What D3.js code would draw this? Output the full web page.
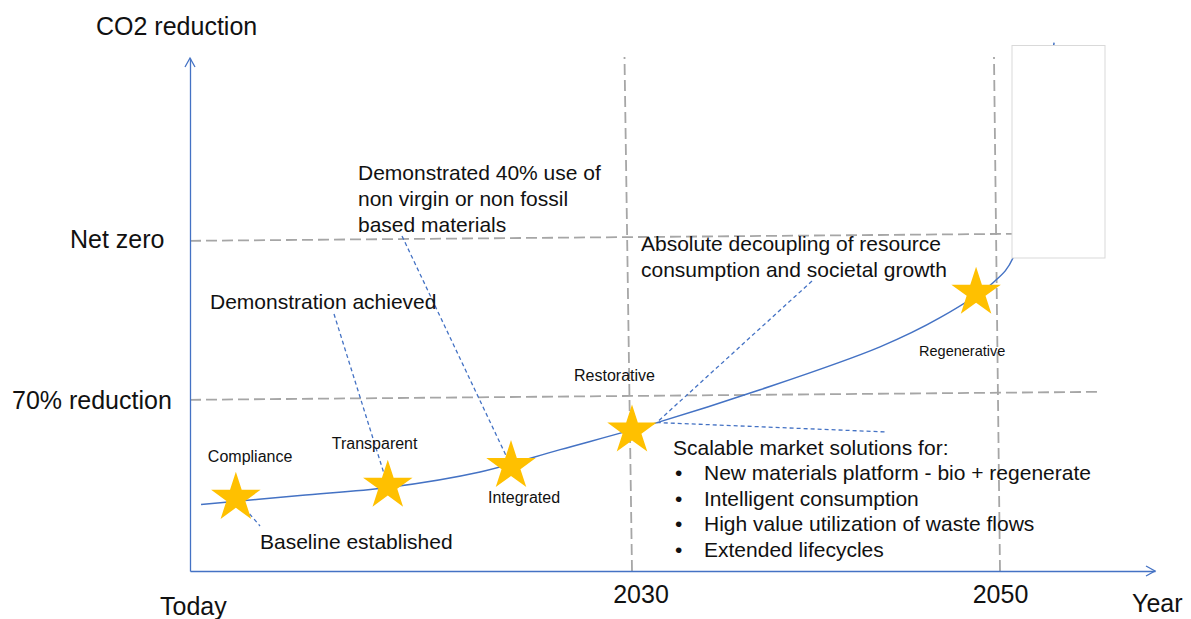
<!DOCTYPE html>
<html><head><meta charset="utf-8">
<script src="https://cdn.jsdelivr.net/npm/d3@7"></script>
<style>html,body{margin:0;padding:0;background:#fff}svg{display:block;font-family:"Liberation Sans",Arial,sans-serif}</style>
</head><body><svg id="c" width="1191" height="619"></svg>
<script>
// ---------- data ----------
const axisYears = [2022, 2030, 2050, 2058.4];      // Today, 2030, 2050, axis end
const xTickYears = [2030, 2050];
const xTickLabels = ["2030", "2050"];
const refValues = [100, 70];                          // % CO2 reduction
const refLabels = ["Net zero", "70% reduction"];
const stageNames = ["Compliance", "Transparent", "Integrated", "Restorative", "Regenerative"];
const stageYears = [2022.83, 2025.58, 2027.81, 2030.0, 2048.70];
const stageValues = [51.5, 53.8, 57.5, 64.2, 90.2];
const curveYears = [2022.20, 2023.99, 2025.58, 2027.25, 2028.70, 2031.36, 2036.96, 2043.48, 2046.74, 2049.62, 2050.71, 2052.93];
const curveValues = [50.25, 51.95, 53.46, 56.4, 60.6, 65.7, 71.9, 80.0, 85.5, 92.1, 96.8, 137.4];
const noteDemo40 = ["Demonstrated 40% use of", "non virgin or non fossil", "based materials"];
const noteDemo = ["Demonstration achieved"];
const noteDecouple = ["Absolute decoupling of resource", "consumption and societal growth"];
const noteScalableTitle = "Scalable market solutions for:";
const noteScalableItems = ["New materials platform - bio + regenerate", "Intelligent consumption", "High value utilization of waste flows", "Extended lifecycles"];
const noteBaseline = ["Baseline established"];

// ---------- layout / style ----------
const BLUE = "#4472C4", GREY = "#A6A6A6", GOLD = "#FFC000", INK = "#111";
const svg = d3.select("#c");
svg.append("rect").attr("width", 1191).attr("height", 619).attr("fill", "#fff");

const x = d3.scaleLinear().domain(axisYears).range([190, 632, 1000, 1155]);
const y = d3.scaleLinear().domain([37.7, 134.5]).range([571, 58]);
const x0 = x(axisYears[0]), xEnd = x(axisYears[3]);
const yBase = y(37.7), yTop = y(134.5);

// reference dashed lines (slightly tilted, as in the slide)
const refEndYears = [2050.65, 2055.4], refTilt = [7, 8];
refValues.forEach((v, i) => {
  svg.append("line").attr("x1", x0).attr("y1", y(v)).attr("x2", x(refEndYears[i])).attr("y2", y(v) - refTilt[i])
    .attr("stroke", GREY).attr("stroke-width", 1.8).attr("stroke-dasharray", "11,5");
});
const vLean = [7.5, 6];
xTickYears.forEach((yr, i) => {
  svg.append("line").attr("x1", x(yr)).attr("y1", yBase).attr("x2", x(yr) - vLean[i]).attr("y2", 57)
    .attr("stroke", GREY).attr("stroke-width", 1.8).attr("stroke-dasharray", "11,5");
});

// axes
const gx = svg.append("g").attr("transform", `translate(0,${yBase})`)
  .call(d3.axisBottom(x).tickValues([]).tickSizeOuter(0));
const gy = svg.append("g").attr("transform", `translate(${x0},0)`)
  .call(d3.axisLeft(y).tickValues([]).tickSizeOuter(0));
[gx, gy].forEach(g => g.select(".domain").attr("stroke", BLUE).attr("stroke-width", 1.3));
svg.append("path").attr("d", `M${xEnd - 9},${yBase - 5}L${xEnd},${yBase}L${xEnd - 9},${yBase + 5}`)
  .attr("fill", "none").attr("stroke", BLUE).attr("stroke-width", 1.3);
svg.append("path").attr("d", `M${x0 - 5},${yTop + 9}L${x0},${yTop}L${x0 + 5},${yTop + 9}`)
  .attr("fill", "none").attr("stroke", BLUE).attr("stroke-width", 1.3);

// curve
const pts = curveYears.map((yr, i) => [x(yr), y(curveValues[i])]);
svg.append("path").attr("d", d3.line().curve(d3.curveCatmullRom.alpha(0.5))(pts))
  .attr("fill", "none").attr("stroke", BLUE).attr("stroke-width", 1.5);

// connectors
const R = 26;
const stars = stageYears.map((yr, i) => [x(yr), y(stageValues[i])]);
const tip = s => [s[0] + R * Math.cos(Math.PI / 10), s[1] - R * Math.sin(Math.PI / 10)];
const connectors = [
  [stars[0], [260, 526]],
  [[334, 314], stars[1]],
  [[402, 236], stars[2]],
  [[812, 281], tip(stars[3])],
  [tip(stars[3]), [887, 432]]
];
connectors.forEach(c => {
  svg.append("line").attr("x1", c[0][0]).attr("y1", c[0][1]).attr("x2", c[1][0]).attr("y2", c[1][1])
    .attr("stroke", BLUE).attr("stroke-width", 1.3).attr("stroke-dasharray", "4,3");
});

// stars
const starPath = d3.symbol(d3.symbolStar, R * R / 0.8908130915292852)();
svg.selectAll(".star").data(stars).join("path").attr("class", "star")
  .attr("transform", d => `translate(${d[0]},${d[1]})`).attr("d", starPath).attr("fill", GOLD);

// white box covering the curve end
svg.append("rect").attr("x", 1012).attr("y", 45.5).attr("width", 93).attr("height", 212.5)
  .attr("fill", "#fff").attr("stroke", "#D9D9D9").attr("stroke-width", 1);

// text helpers
function block(lines, tx, ty, size, lh) {
  const t = svg.append("text").attr("x", tx).attr("y", ty).attr("font-size", size).attr("fill", INK);
  lines.forEach((l, i) => t.append("tspan").attr("x", tx).attr("y", ty + i * lh).text(l));
}
// stage labels
const stageLabelOff = [[-28, -36, 16], [-56, -37, 16], [-23, 37, 16], [-58, -50, 16], [-57, 63, 14.5]];
stageNames.forEach((n, i) => {
  const o = stageLabelOff[i];
  svg.append("text").attr("x", stars[i][0] + o[0]).attr("y", stars[i][1] + o[1])
    .attr("font-size", o[2]).attr("fill", INK).text(n);
});

// axis titles and labels
block(["CO2 reduction"], 96, 35, 25, 0);
block(["Today"], 160, 615, 25, 0);
block(["Year"], 1132, 612, 25, 0);
const refLabelX = [70, 12], refLabelDy = [7, 9.5];
refLabels.forEach((l, i) => block([l], refLabelX[i], y(refValues[i]) + refLabelDy[i], 25, 0));
const tickDx = [9, 0.5];
xTickLabels.forEach((l, i) => {
  svg.append("text").attr("x", x(xTickYears[i]) + tickDx[i]).attr("y", 603).attr("text-anchor", "middle")
    .attr("font-size", 25).attr("fill", INK).text(l);
});

// notes
block(noteDemo40, 358, 180, 21, 26);
block(noteDemo, 210, 309, 21, 26);
block(noteDecouple, 641, 251, 21, 26);
block([noteScalableTitle], 673, 455, 21, 0);
noteScalableItems.forEach((l, i) => {
  svg.append("text").attr("x", 675).attr("y", 480 + i * 25.5).attr("font-size", 21).attr("fill", INK).text("\u2022");
  svg.append("text").attr("x", 704).attr("y", 480 + i * 25.5).attr("font-size", 21).attr("fill", INK).text(l);
});
block(noteBaseline, 260, 549, 21, 0);
</script></body></html>
